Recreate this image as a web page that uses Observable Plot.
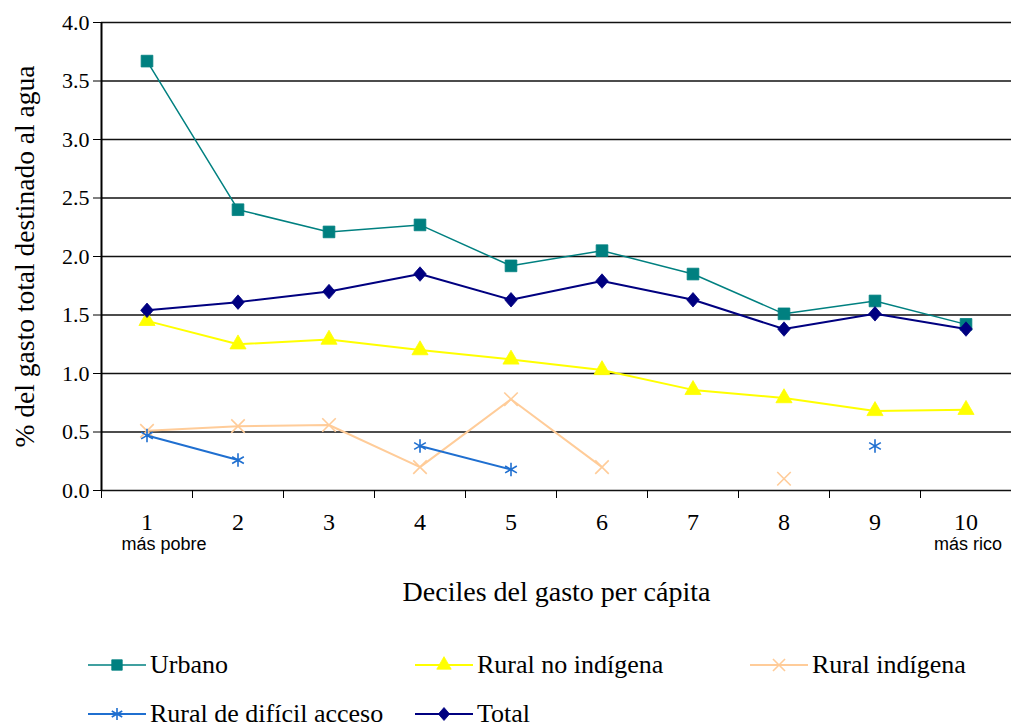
<!DOCTYPE html>
<html>
<head>
<meta charset="utf-8">
<script src="https://cdn.jsdelivr.net/npm/d3@7"></script>
<script src="https://cdn.jsdelivr.net/npm/@observablehq/plot@0.6"></script>
<style>
  html, body { margin: 0; padding: 0; background: #fff; }
  #wrap { width: 1011px; position: relative; }
  #chart svg text { font-family: "Liberation Serif", "Times New Roman", serif; }
  #chart svg text.sans, #chart svg .sans text { font-family: "Liberation Sans", Arial, sans-serif; }
  #legend { position: relative; width: 1011px; height: 102px; font-family: "Liberation Serif", "Times New Roman", serif; font-size: 26px; color: #000; }
  .item { position: absolute; display: flex; align-items: center; white-space: nowrap; }
  .item svg { display: block; margin-right: 4px; }
</style>
</head>
<body>
<div id="wrap">
  <div id="chart"></div>
  <div id="legend"></div>
</div>
<script>
const deciles = [1, 2, 3, 4, 5, 6, 7, 8, 9, 10];
const poorestLabel = "más pobre";
const richestLabel = "más rico";
const yTicks = [0, 0.5, 1, 1.5, 2, 2.5, 3, 3.5, 4];

const urbano          = [3.67, 2.40, 2.21, 2.27, 1.92, 2.05, 1.85, 1.51, 1.62, 1.42];
const ruralNoIndigena = [1.45, 1.25, 1.29, 1.20, 1.12, 1.03, 0.86, 0.79, 0.68, 0.69];
const ruralIndigena   = [0.51, 0.55, 0.56, 0.20, 0.78, 0.20, null, 0.10, null, null];
const ruralDificil    = [0.47, 0.26, null, 0.38, 0.18, null, null, null, 0.38, null];
const total           = [1.54, 1.61, 1.70, 1.85, 1.63, 1.79, 1.63, 1.38, 1.51, 1.38];

const seriesNames = ["Urbano", "Rural no indígena", "Rural indígena", "Rural de difícil acceso", "Total"];
const seriesValues = [urbano, ruralNoIndigena, ruralIndigena, ruralDificil, total];
const seriesColors = ["#008080", "#FFFF00", "#FFCC99", "#1F6FD0", "#000080"];
const seriesLineW = [1.5, 2, 2, 2, 2];

// custom diamond (slightly taller than wide)
const diamondSym = {
  draw(ctx, size) {
    const w = Math.sqrt(size / 2.3), h = w * 1.15;
    ctx.moveTo(0, -h); ctx.lineTo(w, 0); ctx.lineTo(0, h); ctx.lineTo(-w, 0); ctx.closePath();
  }
};
const seriesSymbols = [d3.symbolSquare, d3.symbolTriangle, d3.symbolTimes, d3.symbolAsterisk, diamondSym];
const seriesIsLine = [false, false, true, true, false];
const seriesR = [6.6, 6.0, 6.2, 6.4, 5.4];

const seriesMarks = [];
seriesValues.forEach((vals, i) => {
  const rows = deciles.map((d, j) => ({decil: d, v: vals[j]}));
  seriesMarks.push(Plot.line(rows, {x: "decil", y: "v", stroke: seriesColors[i], strokeWidth: seriesLineW[i]}));
  seriesMarks.push(Plot.dot(rows.filter(r => r.v != null), {
    x: "decil", y: "v", symbol: seriesSymbols[i], r: seriesR[i],
    fill: seriesIsLine[i] ? "none" : seriesColors[i],
    stroke: seriesColors[i], strokeWidth: seriesIsLine[i] ? 1.6 : 0.8
  }));
});

const chart = Plot.plot({
  width: 1011,
  height: 625,
  marginTop: 22,
  marginBottom: 135,
  marginLeft: 101,
  marginRight: 0,
  style: {fontFamily: "Liberation Serif, Times New Roman, serif", fontSize: "22px", color: "#000", background: "#fff"},
  x: {domain: [0.5, 10.5], axis: null},
  y: {domain: [0, 4], axis: null},
  marks: [
    Plot.ruleY(yTicks, {stroke: "#111", strokeWidth: 1.6}),
    Plot.ruleX([0.5], {stroke: "#000", strokeWidth: 2}),
    Plot.axisY({ticks: yTicks, tickFormat: () => "", tickSize: 8, label: null}),
    Plot.text(yTicks, {y: d => d, frameAnchor: "left", dx: -12, textAnchor: "end", text: d => d.toFixed(1), fontSize: 22}),
    Plot.axisX({ticks: d3.range(0.5, 11, 1), tickFormat: () => "", tickSize: 8, label: null}),
    Plot.text(deciles, {x: d => d, frameAnchor: "bottom", dy: 39, text: d => String(d), fontSize: 24}),
    Plot.text([deciles[0]], {x: d => d, frameAnchor: "bottom", dy: 59, dx: 17, text: () => poorestLabel, fontSize: 18, className: "sans"}),
    Plot.text([deciles[deciles.length - 1]], {x: d => d, frameAnchor: "bottom", dy: 59, dx: 2, text: () => richestLabel, fontSize: 18, className: "sans"}),
    Plot.text(["Deciles del gasto per cápita"], {frameAnchor: "bottom", dy: 110, fontSize: 28}),
    Plot.text(["% del gasto total destinado al agua"], {frameAnchor: "left", textAnchor: "middle", rotate: -90, dx: -76, fontSize: 27.5}),
    ...seriesMarks
  ]
});
document.getElementById("chart").appendChild(chart);

// Legend
const legendPos = [[88, 40], [415, 40], [750, 40], [88, 89], [415, 89]];
const legend = document.getElementById("legend");
seriesNames.forEach((name, i) => {
  const item = document.createElement("div");
  item.className = "item";
  item.style.left = legendPos[i][0] + "px";
  item.style.top = (legendPos[i][1] - 15) + "px";
  item.style.height = "30px";
  const sw = d3.create("svg").attr("width", 58).attr("height", 30);
  sw.append("line").attr("x1", 0).attr("x2", 58).attr("y1", 15).attr("y2", 15)
    .attr("stroke", seriesColors[i]).attr("stroke-width", seriesLineW[i]);
  sw.append("path").attr("transform", "translate(29,15)")
    .attr("d", d3.symbol(seriesSymbols[i], Math.PI * seriesR[i] * seriesR[i] * 0.8)())
    .attr("fill", seriesIsLine[i] ? "none" : seriesColors[i])
    .attr("stroke", seriesColors[i]).attr("stroke-width", seriesIsLine[i] ? 1.6 : 0.8);
  item.appendChild(sw.node());
  const t = document.createElement("span");
  t.textContent = name;
  item.appendChild(t);
  legend.appendChild(item);
});
</script>
</body>
</html>
